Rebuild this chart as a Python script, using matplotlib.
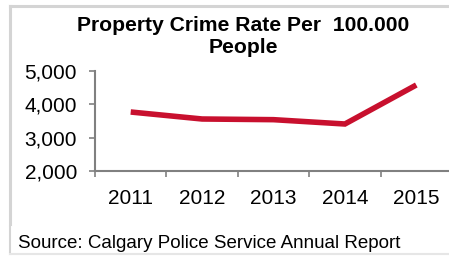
import matplotlib
matplotlib.use("Agg")
import matplotlib.pyplot as plt
from matplotlib.lines import Line2D

years = ["2011", "2012", "2013", "2014", "2015"]
rates = [3770, 3560, 3540, 3410, 4580]
yticks = [2000, 3000, 4000, 5000]
ytick_labels = ["2,000", "3,000", "4,000", "5,000"]
title = "Property Crime Rate Per  100.000\nPeople"
source = "Source: Calgary Police Service Annual Report"

plt.rcParams['font.family'] = ['Liberation Sans', 'DejaVu Sans']

fig = plt.figure(figsize=(4.49, 2.56), dpi=100)
W, H = 449, 256

def fx(px):
    return px / W

def fy(py):
    return 1 - py / H

ax = fig.add_axes([fx(95), fy(171), fx(452 - 95), (171 - 71) / H])
x = list(range(len(years)))
ax.plot(x, rates, color="#C8102E", lw=4.0, solid_capstyle="butt", solid_joinstyle="miter")
ax.set_xlim(-0.5, 4.5)
ax.set_ylim(2000, 5000)
ax.set_yticks(yticks)
ax.set_yticklabels(ytick_labels, fontsize=15)
ax.set_xticks(x)
ax.set_xticklabels(years, fontsize=15)
ax.set_xticks([i - 0.5 for i in range(len(years) + 1)], minor=True)
ax.tick_params(axis='x', which='major', length=0, pad=13)
ax.tick_params(axis='x', which='minor', length=4, width=1.2, color="#808080", direction='out')
ax.tick_params(axis='y', which='major', length=4, width=1.2, color="#808080", pad=9)
for s in ["top", "right"]:
    ax.spines[s].set_visible(False)
for s in ["left", "bottom"]:
    ax.spines[s].set_color("#808080")
    ax.spines[s].set_linewidth(1.5)

fig.text(fx(243), fy(36.5), title, ha="center", va="center", fontsize=15.2,
         fontweight="bold", linespacing=1.2)
fig.text(fx(18), fy(243), source, ha="left", va="center", fontsize=13.5)

border = "#D4D4D4"
fig.add_artist(Line2D([fx(10), 1], [fy(5.5), fy(5.5)], color=border, lw=2.2, transform=fig.transFigure))
fig.add_artist(Line2D([fx(10), fx(10)], [fy(5.5), fy(224)], color=border, lw=2.2, transform=fig.transFigure))
fig.add_artist(Line2D([fx(10), fx(10)], [fy(227), fy(254)], color=border, lw=1.5, transform=fig.transFigure))
fig.add_artist(Line2D([fx(10), 1], [fy(254), fy(254)], color="#E6E6E6", lw=1.5, transform=fig.transFigure))

fig.savefig("out.png", dpi=100)
